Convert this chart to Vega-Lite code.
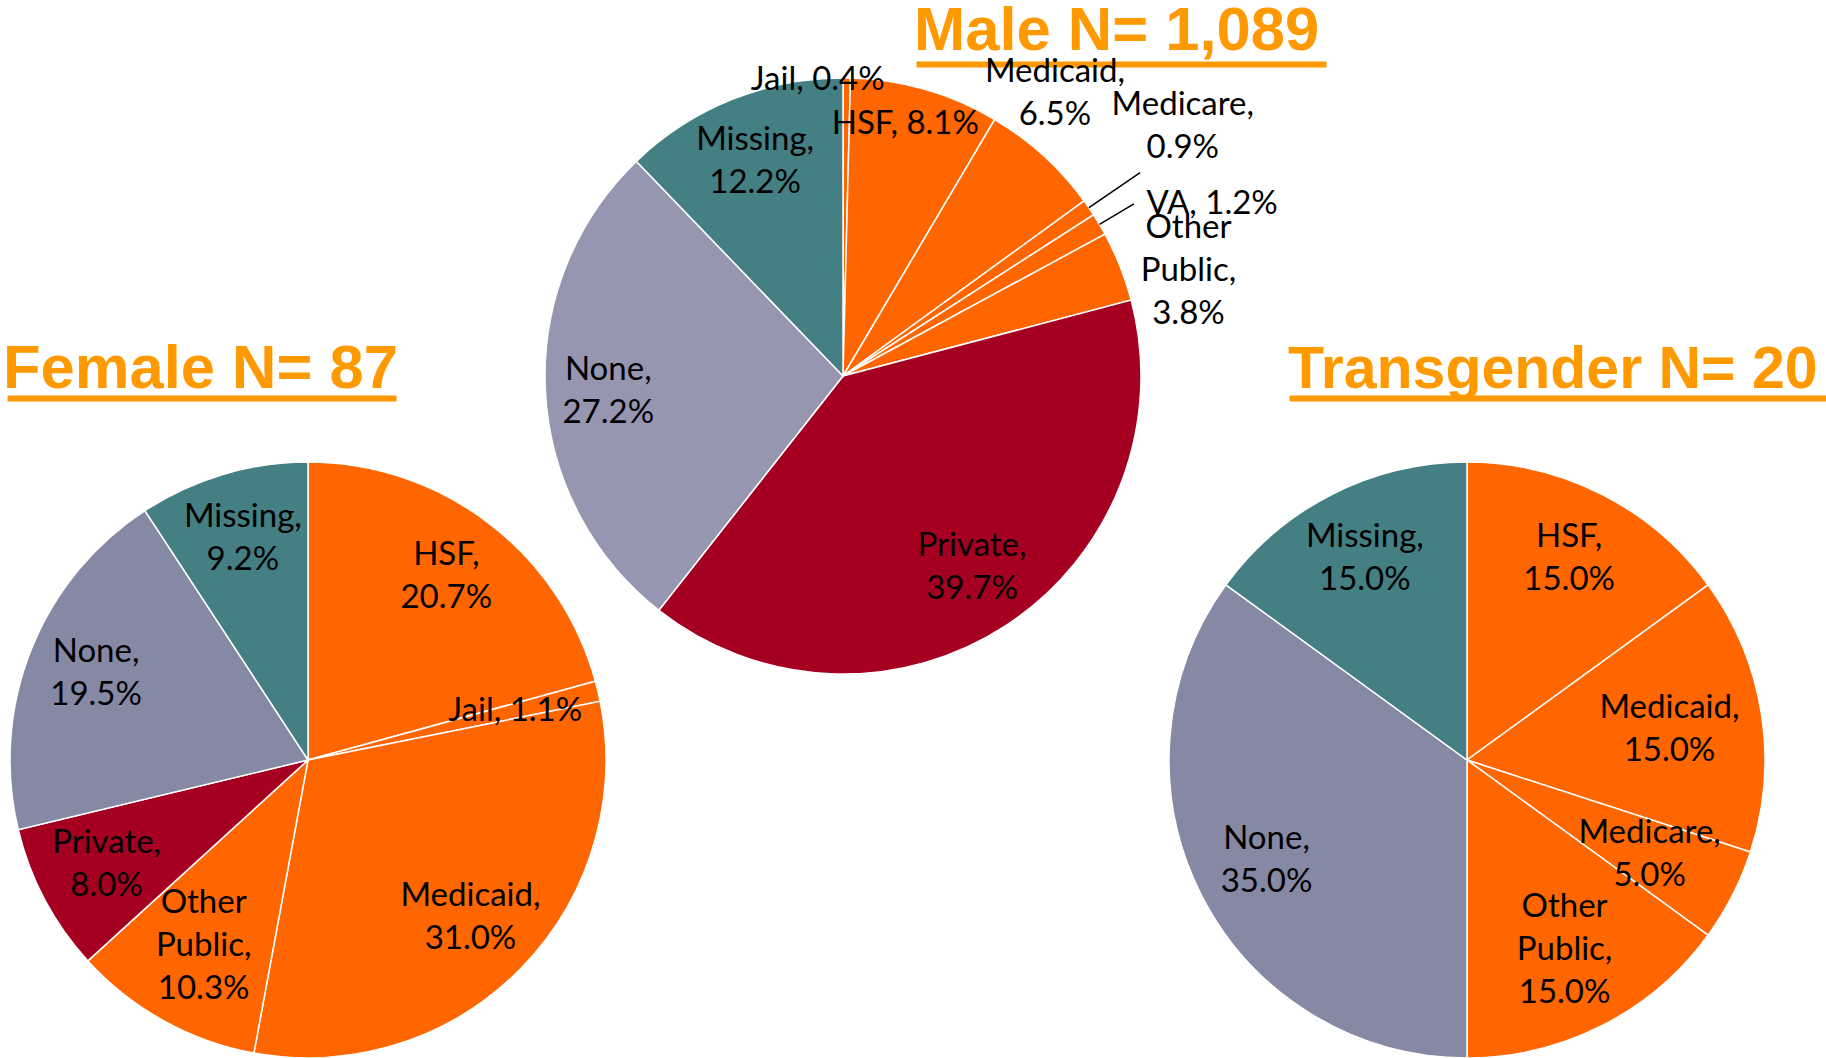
{
  "$schema": "https://vega.github.io/schema/vega-lite/v6.json",
  "padding": 0,
  "bounds": "flush",
  "spacing": 0,
  "align": "each",
  "columns": 3,
  "config": {"view": {"stroke": null}, "concat": {"spacing": 0}, "text": {"font": "Lato", "fontSize": 33, "lineHeight": 43, "lineBreak": "\n", "align": "center", "baseline": "middle", "color": "#000000"}},
  "resolve": {"scale": {"color": "independent", "theta": "independent", "x": "independent"}, "axis": {"x": "independent"}},
  "datasets": {
    "male": [
      {"cat": "Jail", "pct": 0.4, "label": "Jail, 0.4%"},
      {"cat": "HSF", "pct": 8.1, "label": "HSF, 8.1%"},
      {"cat": "Medicaid", "pct": 6.5, "label": "Medicaid,\n6.5%"},
      {"cat": "Medicare", "pct": 0.9, "label": "Medicare,\n0.9%"},
      {"cat": "VA", "pct": 1.2, "label": "VA, 1.2%"},
      {"cat": "Other Public", "pct": 3.8, "label": "Other\nPublic,\n3.8%"},
      {"cat": "Private", "pct": 39.7, "label": "Private,\n39.7%"},
      {"cat": "None", "pct": 27.2, "label": "None,\n27.2%"},
      {"cat": "Missing", "pct": 12.2, "label": "Missing,\n12.2%"}
    ],
    "female": [
      {"cat": "HSF", "pct": 20.7, "label": "HSF,\n20.7%"},
      {"cat": "Jail", "pct": 1.1, "label": "Jail, 1.1%"},
      {"cat": "Medicaid", "pct": 31.0, "label": "Medicaid,\n31.0%"},
      {"cat": "Other Public", "pct": 10.3, "label": "Other\nPublic,\n10.3%"},
      {"cat": "Private", "pct": 8.0, "label": "Private,\n8.0%"},
      {"cat": "None", "pct": 19.5, "label": "None,\n19.5%"},
      {"cat": "Missing", "pct": 9.2, "label": "Missing,\n9.2%"}
    ],
    "trans": [
      {"cat": "HSF", "pct": 15.0, "label": "HSF,\n15.0%"},
      {"cat": "Medicaid", "pct": 15.0, "label": "Medicaid,\n15.0%"},
      {"cat": "Medicare", "pct": 5.0, "label": "Medicare,\n5.0%"},
      {"cat": "Other Public", "pct": 15.0, "label": "Other\nPublic,\n15.0%"},
      {"cat": "None", "pct": 35.0, "label": "None,\n35.0%"},
      {"cat": "Missing", "pct": 15.0, "label": "Missing,\n15.0%"}
    ]
  },
  "concat": [
    {"width": 1, "height": 77, "data": {"values": [{}]}, "mark": {"type": "point", "opacity": 0}},
    {"width": 1, "height": 77, "data": {"values": [{}]}, "mark": {"type": "point", "opacity": 0}},
    {"width": 1, "height": 77, "data": {"values": [{}]}, "mark": {"type": "point", "opacity": 0}},
    {"width": 1, "height": 1, "data": {"values": [{}]}, "mark": {"type": "point", "opacity": 0}},
    {
      "width": 460, "height": 596,
      "data": {"name": "male"},
      "transform": [{"window": [{"op": "row_number", "as": "ord"}]}],
      "title": {"text": "Male N= 1,089", "anchor": "start", "frame": "group", "dx": 301, "offset": -95, "baseline": "alphabetic", "font": "Liberation Sans", "fontSize": 61.5, "fontWeight": "bold", "color": "#FF9900"},
      "encoding": {
        "theta": {"field": "pct", "type": "quantitative", "stack": true},
        "order": {"field": "ord", "type": "quantitative"}
      },
      "layer": [
        {
          "mark": {"type": "arc", "outerRadius": 298, "stroke": "white", "strokeWidth": 1.5},
          "encoding": {
            "color": {"field": "cat", "type": "nominal", "legend": null,
              "scale": {"domain": ["HSF", "Jail", "Medicaid", "Medicare", "VA", "Other Public", "Private", "None", "Missing"],
                        "range": ["#FF6600", "#FF6600", "#FF6600", "#FF6600", "#FF6600", "#FF6600", "#A50021", "#9696B0", "#447F84"]}}
          }
        },
        {
          "mark": {"type": "arc", "outerRadius": 360, "innerRadius": 298, "padAngle": 1, "stroke": "#000000", "strokeWidth": 1.5, "fillOpacity": 0},
          "encoding": {
            "detail": {"field": "cat", "type": "nominal"},
            "strokeOpacity": {"condition": {"test": "datum.cat === 'Medicare'", "value": 1}, "value": 0}
          }
        },
        {
          "mark": {"type": "arc", "outerRadius": 338, "innerRadius": 298, "padAngle": 1, "stroke": "#000000", "strokeWidth": 1.5, "fillOpacity": 0},
          "encoding": {
            "detail": {"field": "cat", "type": "nominal"},
            "strokeOpacity": {"condition": {"test": "datum.cat === 'VA'", "value": 1}, "value": 0}
          }
        },
        {
          "mark": {"type": "text", "radius": 235, "dy": -18},
          "encoding": {
            "detail": {"field": "cat", "type": "nominal"},
            "text": {"condition": {"test": "datum.cat === 'None' || datum.cat === 'Missing'", "field": "label", "type": "nominal"}, "value": ""}
          }
        },
        {
          "mark": {"type": "text", "radius": 235, "dy": -26},
          "encoding": {
            "detail": {"field": "cat", "type": "nominal"},
            "text": {"condition": {"test": "datum.cat === 'Private'", "field": "label", "type": "nominal"}, "value": ""}
          }
        },
        {
          "mark": {"type": "text", "radius": 262, "dx": -10},
          "encoding": {
            "detail": {"field": "cat", "type": "nominal"},
            "text": {"condition": {"test": "datum.cat === 'HSF'", "field": "label", "type": "nominal"}, "value": ""}
          }
        },
        {
          "mark": {"type": "text", "radius": 296, "dx": -29},
          "encoding": {
            "detail": {"field": "cat", "type": "nominal"},
            "text": {"condition": {"test": "datum.cat === 'Jail'", "field": "label", "type": "nominal"}, "value": ""}
          }
        },
        {
          "mark": {"type": "text", "radius": 150, "dx": 111, "dy": -193},
          "encoding": {
            "detail": {"field": "cat", "type": "nominal"},
            "text": {"condition": {"test": "datum.cat === 'Medicaid'", "field": "label", "type": "nominal"}, "value": ""}
          }
        },
        {
          "mark": {"type": "text", "radius": 150, "dx": 216, "dy": -186},
          "encoding": {
            "detail": {"field": "cat", "type": "nominal"},
            "text": {"condition": {"test": "datum.cat === 'Medicare'", "field": "label", "type": "nominal"}, "value": ""}
          }
        },
        {
          "mark": {"type": "text", "radius": 150, "dx": 240, "dy": -96},
          "encoding": {
            "detail": {"field": "cat", "type": "nominal"},
            "text": {"condition": {"test": "datum.cat === 'VA'", "field": "label", "type": "nominal"}, "value": ""}
          }
        },
        {
          "mark": {"type": "text", "radius": 150, "dx": 206, "dy": -93},
          "encoding": {
            "detail": {"field": "cat", "type": "nominal"},
            "text": {"condition": {"test": "datum.cat === 'Other Public'", "field": "label", "type": "nominal"}, "value": ""}
          }
        },
        {
          "mark": {"type": "point", "opacity": 0},
          "encoding": {
            "theta": null,
            "order": null,
            "x": {"datum": 0, "type": "quantitative", "scale": {"domain": [0, 1], "range": [303, 713]},
              "axis": {"orient": "top", "offset": 14, "domainColor": "#FF9900", "domainWidth": 6, "domainCap": "butt", "ticks": false, "labels": false, "grid": false, "title": null, "minExtent": 0, "maxExtent": 0}}
          }
        }
      ]
    },
    {"width": 1, "height": 1, "data": {"values": [{}]}, "mark": {"type": "point", "opacity": 0}},
    {
      "width": 610, "height": 172,
      "data": {"name": "female"},
      "transform": [{"window": [{"op": "row_number", "as": "ord"}]}],
      "title": {"text": "Female N= 87", "anchor": "start", "frame": "group", "dx": 0, "offset": -51, "baseline": "alphabetic", "font": "Liberation Sans", "fontSize": 61.5, "fontWeight": "bold", "color": "#FF9900"},
      "encoding": {
        "theta": {"field": "pct", "type": "quantitative", "stack": true},
        "order": {"field": "ord", "type": "quantitative"}
      },
      "layer": [
        {
          "mark": {"type": "arc", "outerRadius": 298, "stroke": "white", "strokeWidth": 1.5},
          "encoding": {
            "color": {"field": "cat", "type": "nominal", "legend": null,
              "scale": {"domain": ["HSF", "Jail", "Medicaid", "Medicare", "VA", "Other Public", "Private", "None", "Missing"],
                        "range": ["#FF6600", "#FF6600", "#FF6600", "#FF6600", "#FF6600", "#FF6600", "#A50021", "#8689A3", "#447F84"]}}
          }
        },
        {
          "mark": {"type": "text", "radius": 228, "dy": -24},
          "encoding": {
            "detail": {"field": "cat", "type": "nominal"},
            "text": {"condition": {"test": "datum.cat !== 'Jail' && datum.cat !== 'Other Public'", "field": "label", "type": "nominal"}, "value": ""}
          }
        },
        {
          "mark": {"type": "text", "radius": 215, "dy": -45},
          "encoding": {
            "detail": {"field": "cat", "type": "nominal"},
            "text": {"condition": {"test": "datum.cat === 'Other Public'", "field": "label", "type": "nominal"}, "value": ""}
          }
        },
        {
          "mark": {"type": "text", "radius": 213},
          "encoding": {
            "detail": {"field": "cat", "type": "nominal"},
            "text": {"condition": {"test": "datum.cat === 'Jail'", "field": "label", "type": "nominal"}, "value": ""}
          }
        },
        {
          "mark": {"type": "point", "opacity": 0},
          "encoding": {
            "theta": null,
            "order": null,
            "x": {"datum": 0, "type": "quantitative", "scale": {"domain": [0, 1], "range": [4, 393]},
              "axis": {"orient": "top", "offset": 276, "domainColor": "#FF9900", "domainWidth": 6, "domainCap": "butt", "ticks": false, "labels": false, "grid": false, "title": null, "minExtent": 0, "maxExtent": 0}}
          }
        }
      ]
    },
    {"width": 492, "height": 1, "data": {"values": [{}]}, "mark": {"type": "point", "opacity": 0}},
    {
      "width": 724, "height": 172,
      "data": {"name": "trans"},
      "transform": [{"window": [{"op": "row_number", "as": "ord"}]}],
      "title": {"text": "Transgender N= 20", "anchor": "start", "frame": "group", "dx": 183, "offset": -49, "baseline": "alphabetic", "font": "Liberation Sans", "fontSize": 59, "fontWeight": "bold", "color": "#FF9900"},
      "encoding": {
        "theta": {"field": "pct", "type": "quantitative", "stack": true},
        "order": {"field": "ord", "type": "quantitative"}
      },
      "layer": [
        {
          "mark": {"type": "arc", "outerRadius": 298, "stroke": "white", "strokeWidth": 1.5},
          "encoding": {
            "color": {"field": "cat", "type": "nominal", "legend": null,
              "scale": {"domain": ["HSF", "Jail", "Medicaid", "Medicare", "VA", "Other Public", "Private", "None", "Missing"],
                        "range": ["#FF6600", "#FF6600", "#FF6600", "#FF6600", "#FF6600", "#FF6600", "#A50021", "#8689A3", "#447F84"]}}
          }
        },
        {
          "mark": {"type": "text", "radius": 225, "dy": -23},
          "encoding": {
            "detail": {"field": "cat", "type": "nominal"},
            "text": {"condition": {"test": "datum.cat === 'HSF' || datum.cat === 'None' || datum.cat === 'Missing'", "field": "label", "type": "nominal"}, "value": ""}
          }
        },
        {
          "mark": {"type": "text", "radius": 205, "dy": -20},
          "encoding": {
            "detail": {"field": "cat", "type": "nominal"},
            "text": {"condition": {"test": "datum.cat === 'Medicaid' || datum.cat === 'Medicare'", "field": "label", "type": "nominal"}, "value": ""}
          }
        },
        {
          "mark": {"type": "text", "radius": 215, "dy": -45},
          "encoding": {
            "detail": {"field": "cat", "type": "nominal"},
            "text": {"condition": {"test": "datum.cat === 'Other Public'", "field": "label", "type": "nominal"}, "value": ""}
          }
        },
        {
          "mark": {"type": "point", "opacity": 0},
          "encoding": {
            "theta": null,
            "order": null,
            "x": {"datum": 0, "type": "quantitative", "scale": {"domain": [0, 1], "range": [184, 724]},
              "axis": {"orient": "top", "offset": 276, "domainColor": "#FF9900", "domainWidth": 6, "domainCap": "butt", "ticks": false, "labels": false, "grid": false, "title": null, "minExtent": 0, "maxExtent": 0}}
          }
        }
      ]
    }
  ]
}
